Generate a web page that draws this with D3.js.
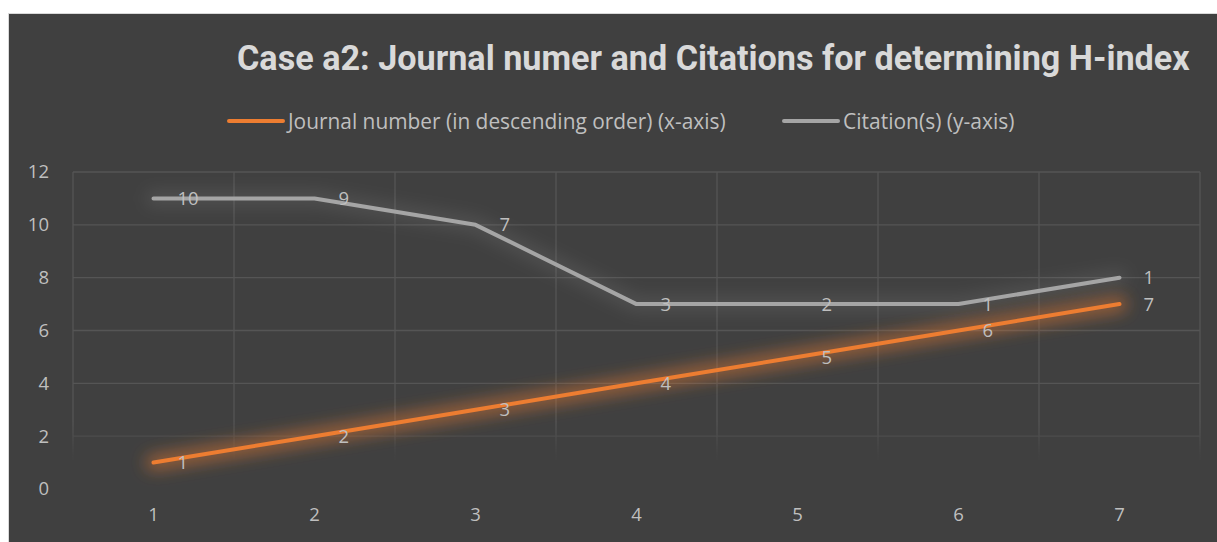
<!DOCTYPE html>
<html><head><meta charset="utf-8">
<script src="https://cdn.jsdelivr.net/npm/d3@7"></script>
<style>html,body{margin:0;padding:0;background:#fff;}svg{display:block;}</style>
</head><body>
<script>
const categories = ["1","2","3","4","5","6","7"];
const journalValues = [1,2,3,4,5,6,7];
const journalLabels = ["1","2","3","4","5","6","7"];
const citationValues = [11,11,10,7,7,7,8];
const citationLabels = ["10","9","7","3","2","1","1"];
const yTicks = [0,2,4,6,8,10,12];
const titleText = "Case a2: Journal numer and Citations for determining H-index";
const seriesNames = ["Journal number (in descending order) (x-axis)","Citation(s) (y-axis)"];

const W = 1217, H = 542;
const svg = d3.select("body").append("svg").attr("width", W).attr("height", H);
const defs = svg.append("defs");

const glow = defs.append("filter").attr("id","glow").attr("x","-20%").attr("y","-60%").attr("width","140%").attr("height","220%");
glow.append("feGaussianBlur").attr("stdDeviation", 8);

const fade = defs.append("linearGradient").attr("id","fadeGrad").attr("gradientUnits","userSpaceOnUse")
  .attr("x1",0).attr("y1",160).attr("x2",0).attr("y2",495);
fade.append("stop").attr("offset","0%").attr("stop-color","#fff").attr("stop-opacity",1);
fade.append("stop").attr("offset","78%").attr("stop-color","#fff").attr("stop-opacity",1);
fade.append("stop").attr("offset","90%").attr("stop-color","#fff").attr("stop-opacity",0);
fade.append("stop").attr("offset","100%").attr("stop-color","#fff").attr("stop-opacity",0);
const mask = defs.append("mask").attr("id","gridMask").attr("maskUnits","userSpaceOnUse")
  .attr("x",0).attr("y",0).attr("width",W).attr("height",H);
mask.append("rect").attr("x",0).attr("y",0).attr("width",W).attr("height",H).attr("fill","url(#fadeGrad)");

// chart background
svg.append("rect").attr("x",8.5).attr("y",13.5).attr("width",W).attr("height",H)
  .attr("fill","#404040").attr("stroke","#d9d9d9").attr("stroke-width",1);

const x = d3.scaleBand().domain(categories).range([73,1200]);
const y = d3.scaleLinear().domain([0,12]).range([489,172]);
const cx = c => x(c) + x.bandwidth()/2;

// gridlines
const grid = svg.append("g").attr("mask","url(#gridMask)").attr("stroke","#555555").attr("stroke-width",1.3);
grid.selectAll("line.h").data(yTicks).join("line").attr("class","h")
  .attr("x1",73).attr("x2",1200).attr("y1",d=>y(d)).attr("y2",d=>y(d));
const vb = categories.map(c=>x(c)).concat([x.range()[1]]);
grid.selectAll("line.v").data(vb).join("line").attr("class","v")
  .attr("x1",d=>d).attr("x2",d=>d).attr("y1",y(12)).attr("y2",y(0));

// axes
const font = "'Open Sans', sans-serif";
const yAxis = svg.append("g").attr("transform","translate(49,0)")
  .call(d3.axisLeft(y).tickValues(yTicks).tickSize(0).tickPadding(0));
yAxis.select(".domain").remove();
yAxis.selectAll("text").attr("fill","#bfbfbf").style("font-family",font).style("font-size","18.5px");

const xAxis = svg.append("g").attr("transform","translate(0,508)")
  .call(d3.axisBottom(x).tickSize(0).tickPadding(0));
xAxis.select(".domain").remove();
xAxis.selectAll("text").attr("fill","#bfbfbf").style("font-family",font).style("font-size","18.5px");

// lines
const line = d3.line().x((d,i)=>cx(categories[i])).y(d=>y(d));
const series = [
  {vals: journalValues, labels: journalLabels, color:"#ED7D31", glowOp:0.5},
  {vals: citationValues, labels: citationLabels, color:"#A5A5A5", glowOp:0.16}
];
series.slice().reverse().forEach(s=>{
  svg.append("path").attr("d", line(s.vals)).attr("fill","none").attr("stroke",s.color)
    .attr("stroke-width",16).attr("stroke-opacity",s.glowOp).attr("stroke-linecap","round")
    .attr("stroke-linejoin","round").attr("filter","url(#glow)");
});
series.slice().reverse().forEach(s=>{
  svg.append("path").attr("d", line(s.vals)).attr("fill","none").attr("stroke",s.color)
    .attr("stroke-width",4).attr("stroke-linecap","round").attr("stroke-linejoin","round");
});
series.forEach(s=>{
  svg.append("g").selectAll("text").data(s.vals).join("text")
    .attr("x",(d,i)=>cx(categories[i])+24).attr("y",d=>y(d)).attr("dy","0.36em")
    .attr("fill","#bfbfbf").style("font-family",font).style("font-size","18.5px")
    .text((d,i)=>s.labels[i]);
});

// title: size chosen so its natural width fits the reference span
const title = svg.append("text").attr("x",237).attr("y",70).attr("fill","#d9d9d9")
  .style("font-family","Roboto, 'Open Sans', sans-serif").style("font-size","32px").style("font-weight","bold")
  .text(titleText);
const natural = title.node().getComputedTextLength();
const fs = Math.min(34.5, 32 * 953 / natural);
title.style("font-size", fs + "px");

// legend
const legend = [
  {x1:229,x2:283,tx:288,tw:438,color:"#ED7D31",name:seriesNames[0]},
  {x1:784,x2:838,tx:843,tw:174,color:"#A5A5A5",name:seriesNames[1]}
];
legend.forEach(l=>{
  svg.append("line").attr("x1",l.x1).attr("x2",l.x2).attr("y1",121).attr("y2",121)
    .attr("stroke",l.color).attr("stroke-width",4).attr("stroke-linecap","round");
  const t = svg.append("text").attr("x",l.tx).attr("y",121).attr("dy","0.36em").attr("fill","#bfbfbf")
    .style("font-family",font).style("font-size","20px").text(l.name);
  const w = t.node().getComputedTextLength();
  t.style("font-size", Math.min(21, 20 * l.tw / w) + "px");
});
</script>
</body></html>
